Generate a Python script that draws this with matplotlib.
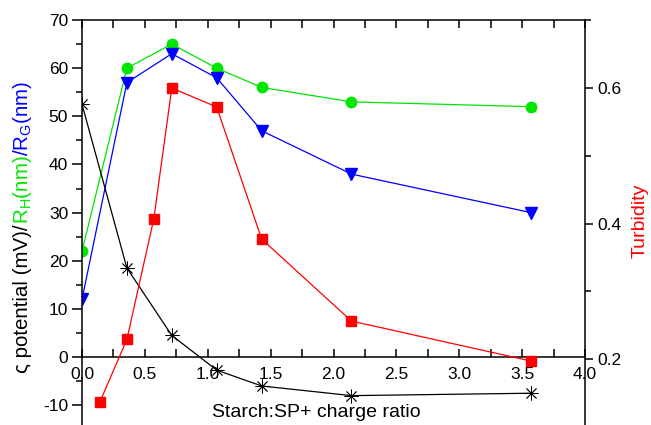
import matplotlib
matplotlib.use("Agg")
import matplotlib.pyplot as plt
from matplotlib.ticker import MultipleLocator

plt.rcParams['font.family'] = ['Liberation Sans', 'DejaVu Sans']
plt.rcParams['mathtext.fontset'] = 'custom'
plt.rcParams['mathtext.rm'] = 'Liberation Sans'
plt.rcParams['axes.unicode_minus'] = False

# data
ratio = [0.0, 0.357, 0.714, 1.071, 1.429, 2.143, 3.571]
zeta = [52.5, 18.5, 4.5, -2.7, -6.0, -8.0, -7.5]
r_h = [22.0, 60.0, 65.0, 60.0, 56.0, 53.0, 52.0]
r_g = [12.0, 57.0, 63.0, 58.0, 47.0, 38.0, 30.0]

turb_ratio = [0.143, 0.357, 0.571, 0.714, 1.071, 1.429, 2.143, 3.571]
turbidity = [0.137, 0.229, 0.407, 0.600, 0.572, 0.377, 0.256, 0.197]

green = '#00e600'
W, H = 651, 425
fig = plt.figure(figsize=(W / 100, H / 100), dpi=100)
ax = fig.add_axes([82 / W, 0.0, (585 - 82) / W, (425 - 20) / H])

ax.plot(ratio, r_h, '-o', color=green, lw=0.9, ms=7.5)
ax.plot(ratio, r_g, '-v', color='blue', lw=0.9, ms=8)
ax.plot(ratio, zeta, '-', color='black', lw=0.9, marker=(8, 2, 0), ms=10, mew=0.6)

ax.set_xlim(0, 4.0)
ax.set_ylim(-14.1, 70)
ax.xaxis.set_major_locator(MultipleLocator(0.5))
ax.xaxis.set_minor_locator(MultipleLocator(0.25))
ax.yaxis.set_major_locator(MultipleLocator(10))
ax.yaxis.set_minor_locator(MultipleLocator(5))

ax.spines['bottom'].set_position(('data', 0))
for s in ax.spines.values():
    s.set_linewidth(1.1)
ax.spines['right'].set_visible(False)

ax.tick_params(axis='x', which='both', direction='in', top=True, length=6, width=1.1,
               labelsize=12.5, pad=7)
ax.tick_params(axis='y', which='major', direction='out', length=7, width=1.1, labelsize=12.5, pad=3)
ax.tick_params(axis='y', which='minor', direction='out', length=4, width=1.1)
ax.set_xticklabels([f'{v:.1f}' for v in ax.get_xticks()])
ax.set_xlim(0, 4.0)

ax2 = ax.twinx()
ax2.plot(turb_ratio, turbidity, '-s', color='red', lw=0.9, ms=7)
ax2.set_ylim(0.1026, 0.7004)
ax2.yaxis.set_major_locator(MultipleLocator(0.2))
ax2.yaxis.set_minor_locator(MultipleLocator(0.1))
ax2.set_yticks([0.2, 0.4, 0.6])
ax2.set_yticklabels(['0.2', '0.4', '0.6'])
for s in ax2.spines.values():
    s.set_visible(False)
ax2.spines['right'].set_visible(True)
ax2.spines['right'].set_linewidth(1.1)
ax2.tick_params(axis='y', which='major', direction='out', length=6, width=1.1, labelsize=12.5, pad=3)
ax2.tick_params(axis='y', which='minor', direction='out', length=4, width=1.1)

fig.text(316 / W, 8 / H, 'Starch:SP+ charge ratio', ha='center', va='baseline', fontsize=14)
fig.text(640 / W, 1 - 221 / H, 'Turbidity', rotation=90, ha='center', va='center',
         fontsize=14, color='red')

# multi-coloured left label, stacked from the bottom up
pieces = [('ς potential (mV)/', 'black'),
          (r'R$_\mathregular{H}$(nm)', green),
          (r'/R$_\mathregular{G}$(nm)', 'blue')]
fig.canvas.draw()
renderer = fig.canvas.get_renderer()
xb = 28 / W
y = 52 / H
for txt, col in pieces:
    t = fig.text(xb, y, txt, rotation=90, rotation_mode='anchor', ha='left', va='baseline',
                 fontsize=14.8, color=col)
    bb = t.get_window_extent(renderer)
    y += bb.height / H

fig.savefig('out.png', dpi=100)
